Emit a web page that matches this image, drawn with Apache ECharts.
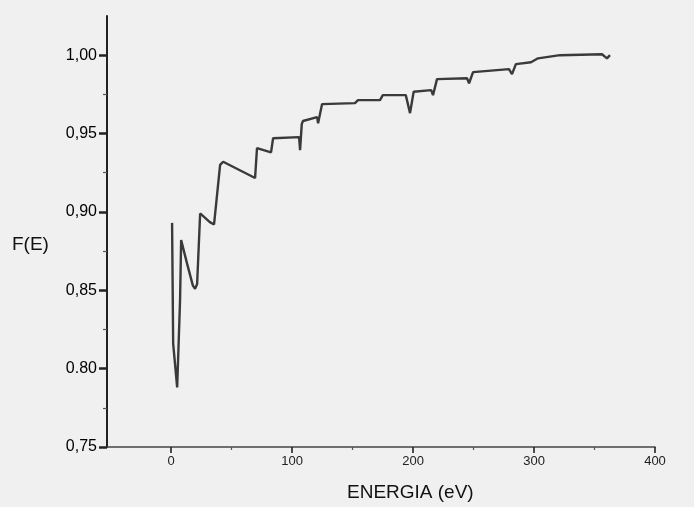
<!DOCTYPE html>
<html>
<head>
<meta charset="utf-8">
<script src="https://cdn.jsdelivr.net/npm/echarts@6/dist/echarts.min.js"></script>
<style>
html,body{margin:0;padding:0;background:#f0f0f0;}
#chart{width:694px;height:507px;}
</style>
</head>
<body>
<div id="chart"></div>
<script>
// Energy (eV) values along the curve
const energy = [0.8, 1.7, 5, 7.4, 8.3, 13.2, 18, 19.8, 21.5, 24, 32, 35.5, 36.4, 40.5, 43, 69.4, 71, 82.6, 84.3, 105.8, 106.6, 108, 109, 120.7, 121.5, 124.8, 152, 154.5, 172.7, 175, 194, 197.5, 200.5, 215, 216.5, 219.8, 244.6, 246.3, 249.6, 279.3, 281.8, 285, 297.5, 299, 303.3, 321.5, 356.2, 360.3, 362.8];
// F(E) values
const fe = [0.893, 0.816, 0.788, 0.844, 0.882, 0.867, 0.853, 0.851, 0.854, 0.899, 0.8935, 0.892, 0.893, 0.930, 0.932, 0.9216, 0.9407, 0.938, 0.947, 0.9477, 0.9394, 0.956, 0.958, 0.9605, 0.9566, 0.9688, 0.9694, 0.9713, 0.9713, 0.9745, 0.9745, 0.963, 0.9767, 0.9777, 0.9745, 0.9847, 0.9853, 0.9821, 0.9892, 0.9911, 0.9879, 0.9943, 0.9955, 0.9943, 0.998, 1.0, 1.0006, 0.998, 1.0];

const xMajorTicks = [0, 100, 200, 300, 400];
const xMinorTicks = [50, 150, 250, 350];
const yMajorTicks = [0.75, 0.80, 0.85, 0.90, 0.95, 1.00];
const yMinorTicks = [0.775, 0.825, 0.875, 0.925, 0.975];
const yTickLabels = ['0,75', '0.80', '0,85', '0,90', '0,95', '1,00'];
const xTickLabels = ['0', '100', '200', '300', '400'];

const points = energy.map((e, i) => [e, fe[i]]);

const chart = echarts.init(document.getElementById('chart'));
const axisColor = '#222';
chart.setOption({
  backgroundColor: '#f0f0f0',
  animation: false,
  grid: {left: 107, right: 39, top: 16, bottom: 60, containLabel: false},
  xAxis: [{
    type: 'value', min: -53, max: 400, position: 'bottom',
    axisLine: {show: true, onZero: false, lineStyle: {color: '#444', width: 1.6}},
    axisTick: {show: true, customValues: xMajorTicks, length: 6, lineStyle: {color: axisColor, width: 1.6}},
    axisLabel: {customValues: xMajorTicks, margin: 8, color: '#222', fontSize: 13,
      fontFamily: '"Liberation Sans Narrow", "Liberation Sans", Arial, sans-serif',
      formatter: v => xTickLabels[xMajorTicks.indexOf(v)] ?? ''},
    splitLine: {show: false}
  }, {
    type: 'value', min: -53, max: 400, position: 'bottom',
    axisLine: {show: false, onZero: false},
    axisTick: {show: true, customValues: xMinorTicks, length: 3, lineStyle: {color: '#555', width: 1.2}},
    axisLabel: {show: false},
    splitLine: {show: false}
  }],
  yAxis: [{
    type: 'value', min: 0.75, max: 1.025, position: 'left',
    axisLine: {show: true, onZero: false, lineStyle: {color: axisColor, width: 2}},
    axisTick: {show: true, customValues: yMajorTicks, length: 8, lineStyle: {color: axisColor, width: 2.5}},
    axisLabel: {customValues: yMajorTicks, margin: 10, color: '#000', fontSize: 16,
      fontFamily: '"Liberation Sans", Arial, sans-serif',
      formatter: v => { const i = yMajorTicks.findIndex(t => Math.abs(t - v) < 1e-6); return i >= 0 ? yTickLabels[i] : ''; }},
    splitLine: {show: false}
  }, {
    type: 'value', min: 0.75, max: 1.025, position: 'left', offset: 0,
    axisLine: {show: false, onZero: false},
    axisTick: {show: true, customValues: yMinorTicks, length: 4, lineStyle: {color: '#555', width: 1.2}},
    axisLabel: {show: false},
    splitLine: {show: false}
  }],
  graphic: [{
    type: 'text', left: 12, top: 235,
    style: {text: 'F(E)', fill: '#111', font: '19px "Liberation Sans", Arial, sans-serif'}
  }, {
    type: 'text', left: 347, top: 483,
    style: {text: 'ENERGIA (eV)', fill: '#111', font: '19px "Liberation Sans", Arial, sans-serif'}
  }],
  series: [{
    type: 'line', xAxisIndex: 0, yAxisIndex: 0,
    data: points, showSymbol: false, smooth: false,
    lineStyle: {color: '#3a3a3a', width: 2.4}
  }]
});
</script>
</body>
</html>
